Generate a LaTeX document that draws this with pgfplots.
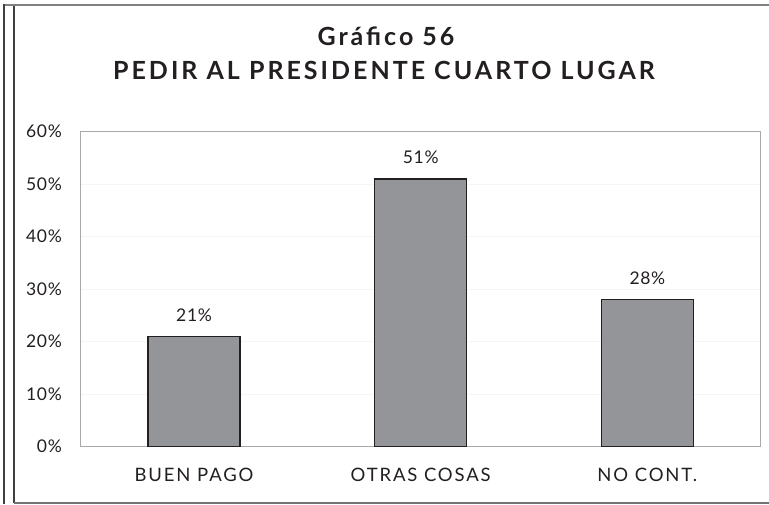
\documentclass[border=0pt]{standalone}
\usepackage{fontspec}
\setmainfont{Lato}
\usepackage{pgfplots}
\pgfplotsset{compat=1.18}
\definecolor{barfill}{HTML}{939598}
\definecolor{baredge}{HTML}{231F20}
\definecolor{axgray}{HTML}{A7A9AC}
\definecolor{txt}{HTML}{231F20}
\newfontfamily\tickfont[LetterSpace=4]{Lato}
\newfontfamily\lblfont[LetterSpace=10]{Lato}
\newfontfamily\ttlfont[LetterSpace=12]{Lato}
\begin{document}
\begin{tikzpicture}[x=1pt,y=1pt]
\useasboundingbox (0,0) rectangle (769,504);
% outer frame
\draw[color=black!50, line width=2pt] (4,498.5) -- (769,498.5);
\draw[color=black!75, line width=1.2pt] (4,499.5) -- (4,0);
\draw[color=black!75, line width=1.2pt] (14,497.5) -- (14,1);
\draw[color=black!55, line width=1.5pt] (14,1) -- (769,1);
% title
\node[anchor=base, inner sep=0pt, text=txt, font={\ttlfont\bfseries\fontsize{25}{25}\selectfont}] at (386,458) {Gráfico 56};
\node[anchor=base, inner sep=0pt, text=txt, font={\ttlfont\bfseries\fontsize{25}{25}\selectfont}] at (384,424) {PEDIR AL PRESIDENTE CUARTO LUGAR};
\begin{axis}[
  at={(80.7pt,57.3pt)}, anchor=south west,
  scale only axis, width=680pt, height=315pt,
  xmin=-0.5, xmax=2.5, ymin=0, ymax=60,
  ybar, bar width=92pt,
  xtick={0,1,2},
  xticklabels={BUEN PAGO, OTRAS COSAS, NO CONT.},
  ytick={0,10,...,60},
  major tick length=0pt,
  axis line style={draw=axgray, line width=1.5pt},
  ymajorgrids, major grid style={draw=black!4, line width=0.8pt},
  /pgf/number format/assume math mode=true,
  yticklabel={\pgfmathprintnumber{\tick}\%},
  yticklabel style={anchor=east, inner sep=0pt, xshift=-18.7pt, text=txt, font=\tickfont\fontsize{17.5}{17.5}\selectfont},
  xticklabel style={anchor=base, inner sep=0pt, yshift=-35pt, text=txt, font=\lblfont\fontsize{18.5}{18.5}\selectfont},
  nodes near coords={\pgfmathprintnumber{\pgfplotspointmeta}\%},
  nodes near coords style={anchor=base, inner sep=0pt, yshift=15pt, text=txt, font=\tickfont\fontsize{17.5}{17.5}\selectfont},
]
\addplot[fill=barfill, draw=baredge, line width=1.3pt] coordinates {(0,21) (1,51) (2,28)};
\end{axis}
\end{tikzpicture}
\end{document}
